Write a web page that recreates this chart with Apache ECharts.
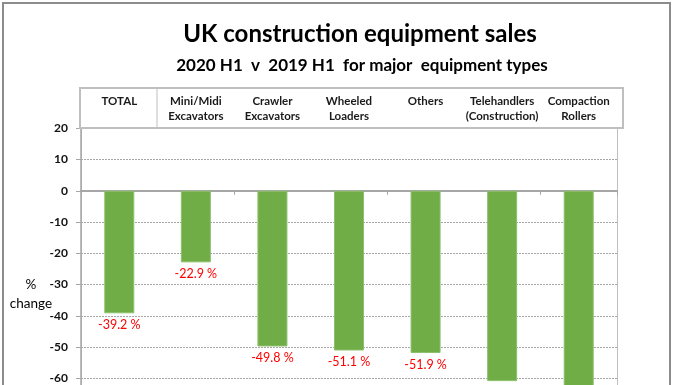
<!DOCTYPE html>
<html><head><meta charset="utf-8">
<script src="https://cdn.jsdelivr.net/npm/echarts@6/dist/echarts.min.js"></script>
<style>html,body{margin:0;padding:0;background:#fff}#c{width:677px;height:385px}</style>
</head><body><div id="c"></div>
<script>
const categories = ["TOTAL", "Mini/Midi\nExcavators", "Crawler\nExcavators", "Wheeled\nLoaders", "Others", "Telehandlers\n(Construction)", "Compaction\nRollers"];
const changePct = [-39.2, -22.9, -49.8, -51.1, -51.9, -60.9, -65.0];
const yMin = -80, yMax = 20, yStep = 10;
const titleText = "UK construction equipment sales";
const subtitleText = "2020 H1  v  2019 H1  for major  equipment types";
const yName = "\n%\nchange";

const FONT = "Lato, 'Open Sans', sans-serif";
const chart = echarts.init(document.getElementById('c'), null, {renderer: 'canvas'});
const gridTop = 128.3, gridLeft = 81, gridW = 536, gridH = 312.5;
chart.setOption({
  animation: false,
  backgroundColor: '#fff',
  title: [
    {text: titleText, left: 355, top: 17, textAlign: 'center',
     textStyle: {fontFamily: FONT, fontWeight: 'bold', fontSize: 24, color: '#000'}},
    {text: subtitleText, left: 357, top: 52, textAlign: 'center',
     textStyle: {fontFamily: FONT, fontWeight: 'bold', fontSize: 17, color: '#000'}}
  ],
  grid: {left: gridLeft, top: gridTop, width: gridW, height: gridH, containLabel: false, outerBoundsMode: 'none'},
  xAxis: [
    {type: 'category', data: categories, position: 'bottom',
     axisLine: {onZero: true, lineStyle: {color: '#a6a6a6', width: 2}},
     axisTick: {show: true, length: 4, lineStyle: {color: '#a6a6a6'}},
     axisLabel: {show: false},
     splitLine: {show: true, interval: (i) => i === 1, lineStyle: {color: '#bfbfbf', width: 1}}},
    {type: 'category', data: categories, position: 'top',
     axisLine: {show: false}, axisTick: {show: false},
     axisLabel: {show: true, interval: 0, margin: 35, verticalAlign: 'top', align: 'center',
       fontFamily: FONT, fontWeight: 'bold', fontSize: 11.5, lineHeight: 15, color: '#1a1a1a'}}
  ],
  yAxis: {
    type: 'value', min: yMin, max: yMax, interval: yStep,
    name: yName, nameLocation: 'middle', nameRotate: 0, nameGap: 50, nameMoveOverlap: false,
    nameTextStyle: {fontFamily: FONT, fontSize: 13.5, color: '#000', align: 'center', lineHeight: 19},
    axisLine: {show: true, lineStyle: {color: '#a6a6a6', width: 1.5}},
    axisTick: {show: true, length: 5, lineStyle: {color: '#a6a6a6'}},
    axisLabel: {margin: 13, fontFamily: FONT, fontWeight: 'bold', fontSize: 12, color: '#111'},
    splitLine: {show: true, lineStyle: {color: '#a6a6a6', type: [2, 1], width: 1}}
  },
  series: [{
    type: 'bar', data: changePct, barWidth: 30,
    itemStyle: {color: '#70ad47', borderColor: '#8cc06a', borderWidth: 1},
    label: {show: true, position: 'bottom', distance: 5, formatter: (p) => p.value.toFixed(1) + ' %',
      fontFamily: FONT, fontSize: 12.5, color: '#ff0000'}
  }],
  graphic: [
    {type: 'rect', shape: {x: 3, y: 3, width: 667, height: 420}, style: {fill: 'none', stroke: '#8c8c8c', lineWidth: 2}, silent: true},
    {type: 'rect', shape: {x: 80, y: 88, width: 543, height: 40}, style: {fill: 'none', stroke: '#bfbfbf', lineWidth: 2}, silent: true, z: 10},
    {type: 'line', shape: {x1: 157, y1: 88, x2: 157, y2: 128}, style: {stroke: '#bfbfbf', lineWidth: 1}, silent: true, z: 10}
  ]
});
</script></body></html>
